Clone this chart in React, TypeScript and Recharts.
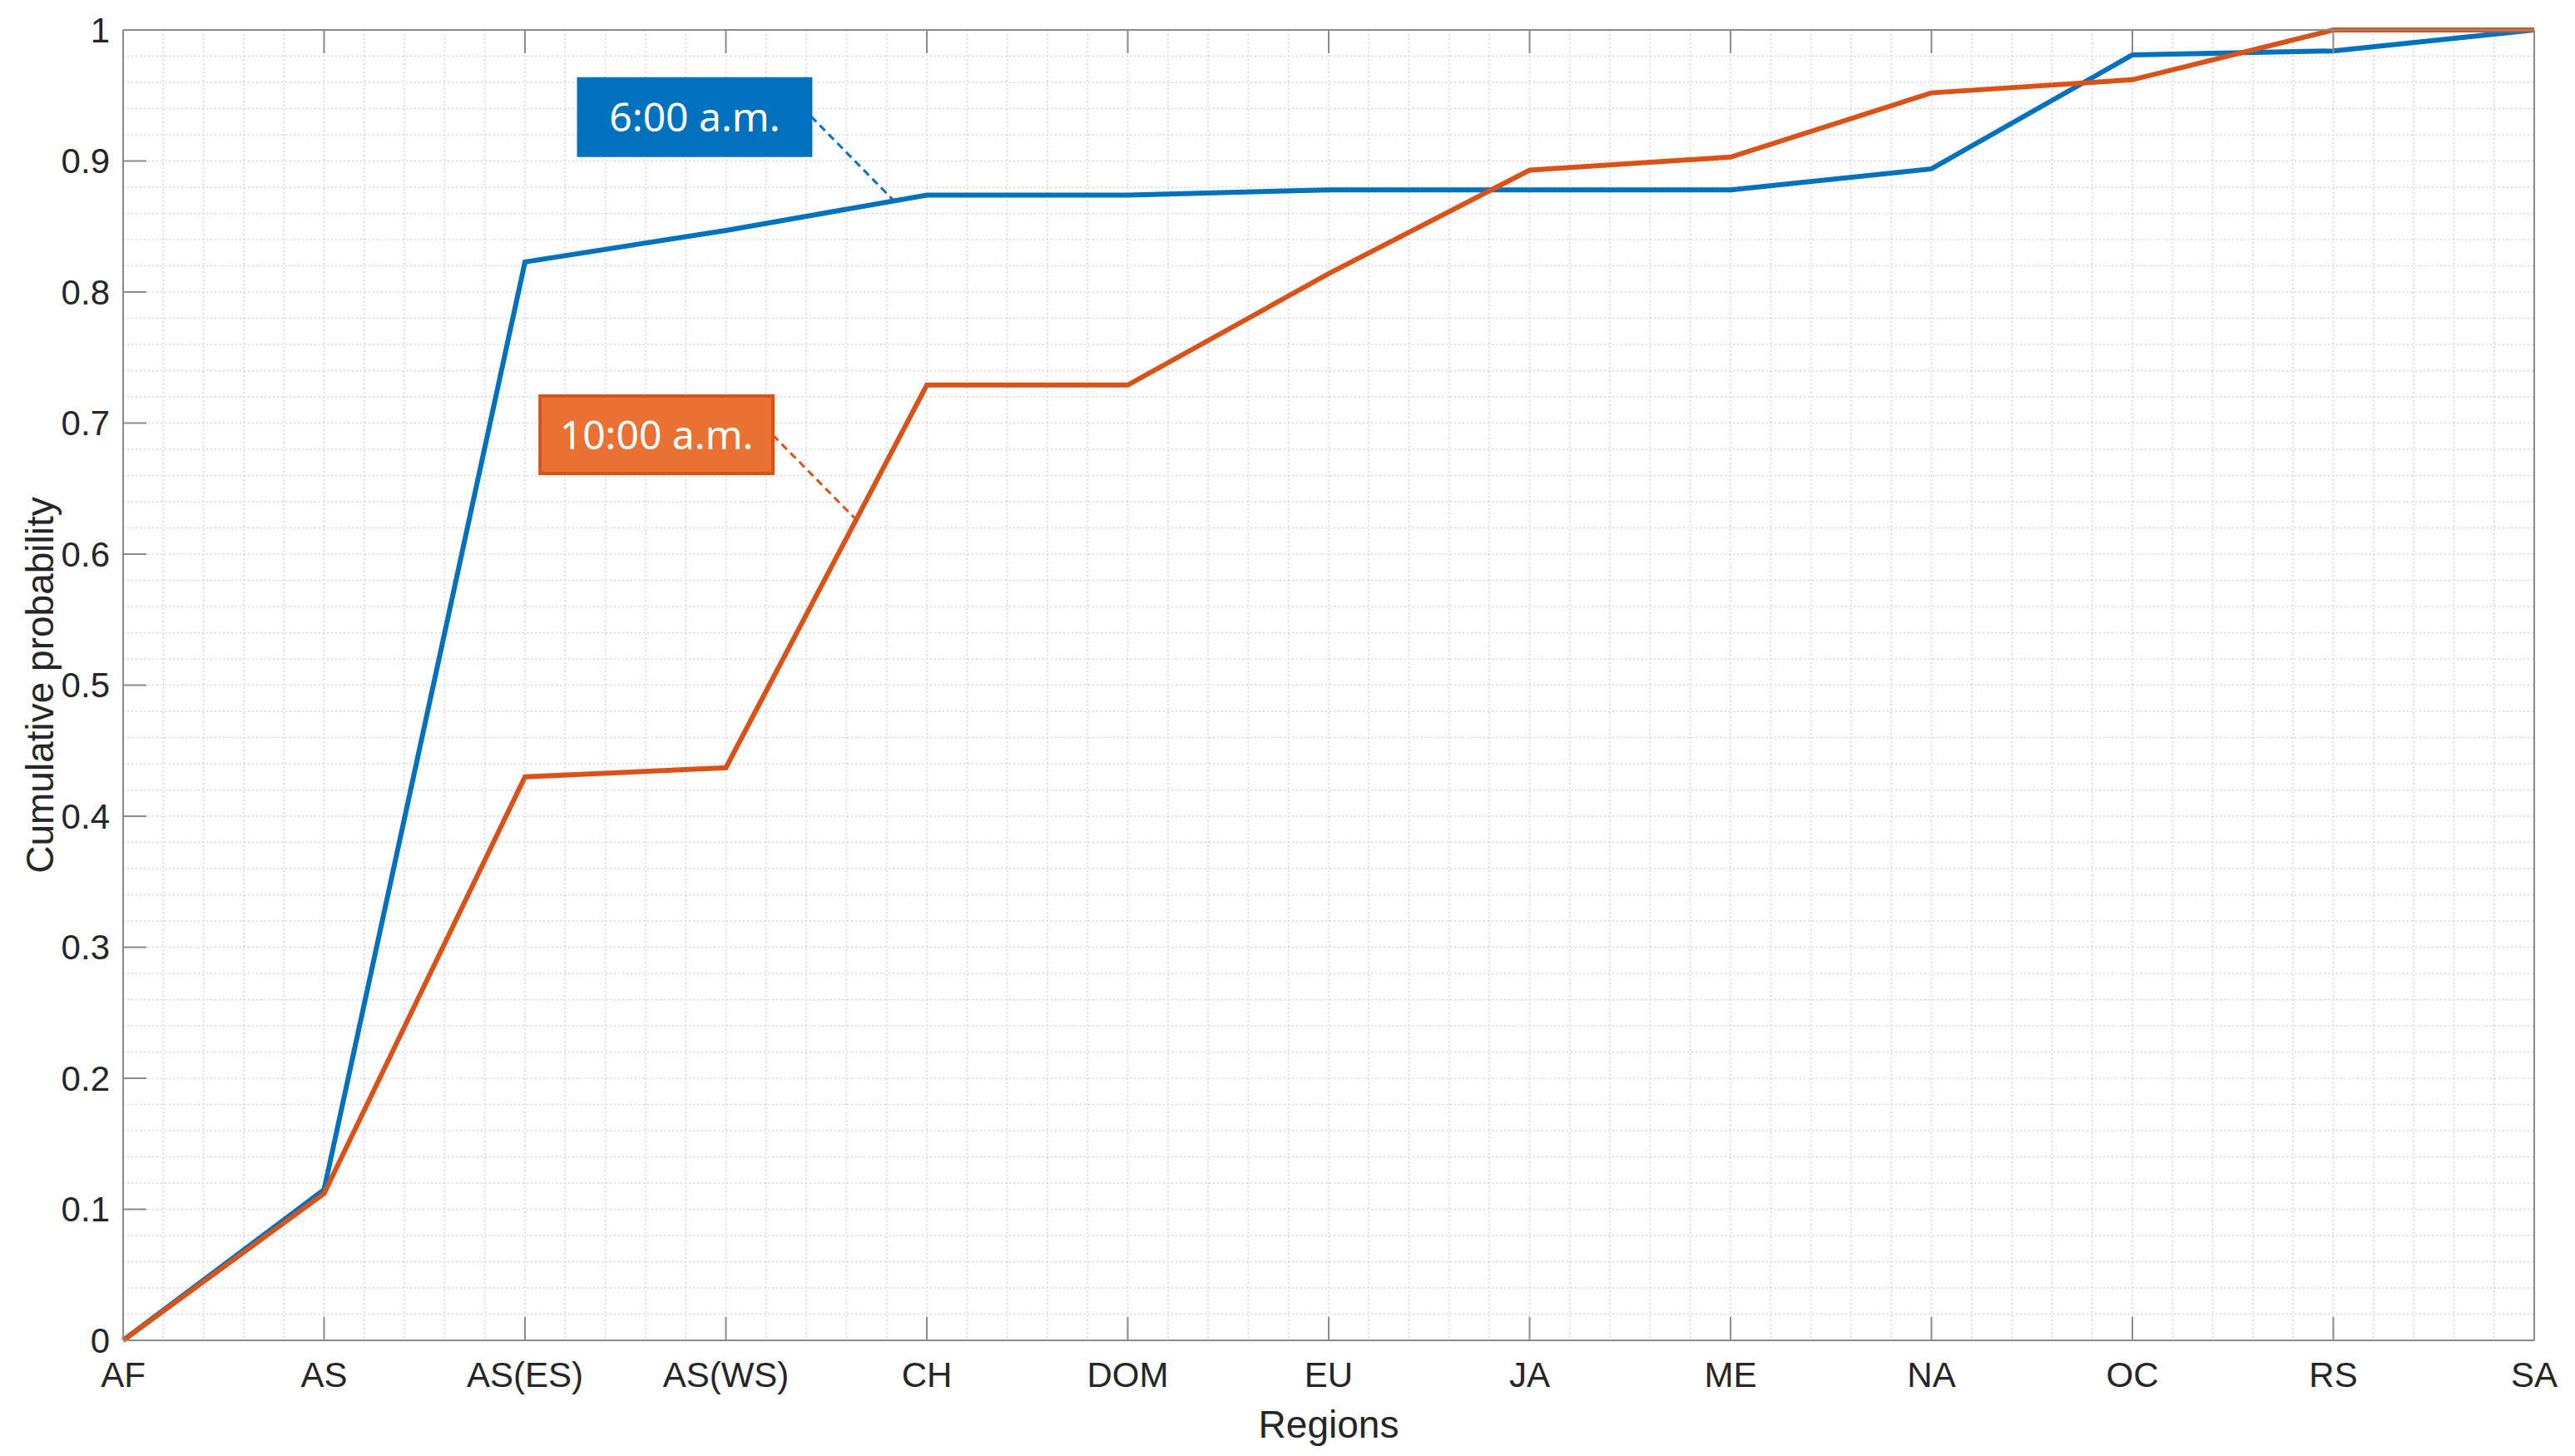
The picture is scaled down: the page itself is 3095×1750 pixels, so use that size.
import React from 'react';
import {
  LineChart,
  Line,
  XAxis,
  YAxis,
  CartesianGrid,
  ReferenceArea,
  ReferenceLine,
} from 'recharts';

const regions = ['AF', 'AS', 'AS(ES)', 'AS(WS)', 'CH', 'DOM', 'EU', 'JA', 'ME', 'NA', 'OC', 'RS', 'SA'];
const sixAM = [0, 0.115, 0.823, 0.847, 0.874, 0.874, 0.878, 0.878, 0.878, 0.894, 0.981, 0.984, 1];
const tenAM = [0, 0.112, 0.43, 0.437, 0.729, 0.729, 0.814, 0.893, 0.903, 0.952, 0.962, 1, 1];
const yTicks = [0, 0.1, 0.2, 0.3, 0.4, 0.5, 0.6, 0.7, 0.8, 0.9, 1];
const yTickLabels = ['0', '0.1', '0.2', '0.3', '0.4', '0.5', '0.6', '0.7', '0.8', '0.9', '1'];
const xTicks = regions.map((_, i) => i);
const minorX = Array.from({ length: 61 }, (_, i) => Math.round(i * 0.2 * 100) / 100);
const minorY = Array.from({ length: 51 }, (_, i) => Math.round(i * 0.02 * 1000) / 1000);

const data = regions.map((region, i) => ({ idx: i, region, six: sixAM[i], ten: tenAM[i] }));

const FONT = '"Liberation Sans", Arial, Helvetica, sans-serif';
const NOTE_FONT = '"Noto Sans", "Open Sans", sans-serif';
const AXIS_COLOR = '#8a8a8a';
const TEXT_COLOR = '#262626';
const BLUE = '#0072BD';
const ORANGE = '#D95319';
const ORANGE_FILL = '#E87133';
const TICK_LEN = 28;

const BottomTick = (props: any) => {
  const { x, y, payload } = props;
  return (
    <g>
      <line x1={x} x2={x} y1={y} y2={y - TICK_LEN} stroke={AXIS_COLOR} strokeWidth={2} />
      <text x={x} y={y + 26} dy="0.71em" textAnchor="middle" fill={TEXT_COLOR} fontSize={42} fontFamily={FONT}>
        {regions[payload.value]}
      </text>
    </g>
  );
};

const TopTick = (props: any) => {
  const { x, y } = props;
  return <line x1={x} x2={x} y1={y} y2={y + TICK_LEN} stroke={AXIS_COLOR} strokeWidth={2} />;
};

const LeftTick = (props: any) => {
  const { x, y, payload, index } = props;
  const i = yTicks.indexOf(payload.value);
  return (
    <g>
      <line x1={x} x2={x + TICK_LEN} y1={y} y2={y} stroke={AXIS_COLOR} strokeWidth={2} />
      <text x={x - 16} y={y} dy="0.355em" textAnchor="end" fill={TEXT_COLOR} fontSize={42} fontFamily={FONT}>
        {i >= 0 ? yTickLabels[i] : yTickLabels[index]}
      </text>
    </g>
  );
};

const RightTick = (props: any) => {
  const { x, y } = props;
  return <line x1={x} x2={x - TICK_LEN} y1={y} y2={y} stroke={AXIS_COLOR} strokeWidth={2} />;
};

export default function App() {
  const axisLine = { stroke: AXIS_COLOR, strokeWidth: 2 };
  return (
    <div style={{ position: 'absolute', left: 0, top: 0, width: 3095, height: 1750, background: '#ffffff' }}>
      <LineChart width={3095} height={1750} data={data} margin={{ top: 0, right: 0, bottom: 0, left: 0 }}>
        <CartesianGrid
          horizontalValues={minorY}
          verticalValues={minorX}
          stroke="#d6d6d6"
          strokeDasharray="2 3"
          strokeWidth={1.5}
        />
        <XAxis
          dataKey="idx"
          type="number"
          domain={[0, 12]}
          ticks={xTicks}
          interval={0}
          height={139}
          tickSize={0}
          tickMargin={0}
          axisLine={axisLine}
          tickLine={false}
          tick={<BottomTick />}
          label={{ value: 'Regions', position: 'insideBottom', offset: 22, fill: TEXT_COLOR, fontSize: 46, fontFamily: FONT }}
        />
        <XAxis
          xAxisId="top"
          orientation="top"
          type="number"
          domain={[0, 12]}
          ticks={xTicks}
          interval={0}
          height={36}
          tickSize={0}
          tickMargin={0}
          axisLine={axisLine}
          tickLine={false}
          tick={<TopTick />}
        />
        <YAxis
          type="number"
          domain={[0, 1]}
          ticks={yTicks}
          interval={0}
          width={148}
          tickSize={0}
          tickMargin={0}
          axisLine={axisLine}
          tickLine={false}
          tick={<LeftTick />}
          label={{
            value: 'Cumulative probability',
            angle: -90,
            position: 'insideLeft',
            offset: 48,
            fill: TEXT_COLOR,
            fontSize: 46,
            fontFamily: FONT,
            style: { textAnchor: 'middle' },
          }}
        />
        <YAxis
          yAxisId="right"
          orientation="right"
          type="number"
          domain={[0, 1]}
          ticks={yTicks}
          interval={0}
          width={49}
          tickSize={0}
          tickMargin={0}
          axisLine={axisLine}
          tickLine={false}
          tick={<RightTick />}
        />
        <ReferenceArea
          x1={2.265}
          x2={3.424}
          y1={0.904}
          y2={0.963}
          fill={BLUE}
          fillOpacity={1}
          stroke={BLUE}
          strokeWidth={3}
          ifOverflow="visible"
          label={{ value: '6:00 a.m.', position: 'center', fill: '#ffffff', fontSize: 48, fontFamily: NOTE_FONT }}
        />
        <ReferenceLine
          segment={[{ x: 3.424, y: 0.934 }, { x: 3.834, y: 0.87 }]}
          stroke={BLUE}
          strokeWidth={3}
          strokeDasharray="9 6"
          ifOverflow="visible"
        />
        <ReferenceArea
          x1={2.075}
          x2={3.234}
          y1={0.6616}
          y2={0.7206}
          fill={ORANGE_FILL}
          fillOpacity={1}
          stroke={ORANGE}
          strokeWidth={4}
          ifOverflow="visible"
          label={{ value: '10:00 a.m.', position: 'center', fill: '#ffffff', fontSize: 48, fontFamily: NOTE_FONT }}
        />
        <ReferenceLine
          segment={[{ x: 3.234, y: 0.6908 }, { x: 3.644, y: 0.627 }]}
          stroke={ORANGE}
          strokeWidth={3}
          strokeDasharray="9 6"
          ifOverflow="visible"
        />
        <Line type="linear" dataKey="six" stroke={BLUE} strokeWidth={6} dot={false} activeDot={false} isAnimationActive={false} />
        <Line type="linear" dataKey="ten" stroke={ORANGE} strokeWidth={6} dot={false} activeDot={false} isAnimationActive={false} />
      </LineChart>
    </div>
  );
}
